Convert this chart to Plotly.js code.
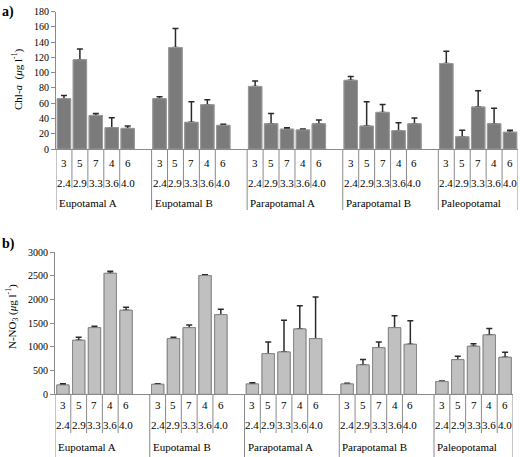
<!DOCTYPE html>
<html><head><meta charset="utf-8">
<script src="https://cdn.plot.ly/plotly-3.0.1.min.js"></script>
<style>body{margin:0;background:#fff}#chart{width:520px;height:457px}</style>
</head><body><div id="chart"></div>
<script>
const groups = ["Eupotamal A","Eupotamal B","Parapotamal A","Parapotamal B","Paleopotamal"];
const level1 = ["3","5","7","4","6"];
const level2 = ["2.4","2.9","3.3","3.6","4.0"];
const chlA    = [66,117,44,28,27, 66,133,35,58,31, 82,33,26,25,33, 90,30,48,24,33, 112,16,55,33,22];
const chlAErr = [4,14,2.5,13,3, 2.5,25,27,6.5,1.5, 7,13.5,2,1.3,5, 5,32,10.5,10.5,7.5, 16,8.5,21.5,20.5,2.5];
const no3     = [197,1141,1408,2556,1775, 211,1176,1408,2507,1683, 218,859,894,1380,1176, 218,620,986,1408,1056, 268,732,1014,1254,782];
const no3Err  = [25,63,29,42,63, 14,28,57,21,113, 28,247,669,493,880, 14,113,120,254,500, 14,71,56,134,106];

const W = 520, H = 457;
const SLOT = 6; // 5 categories + 1 blank slot per group
const xs = [];
groups.forEach((g, gi) => level1.forEach((c, ci) => xs.push(gi * SLOT + ci)));
const nSlots = (groups.length - 1) * SLOT + level1.length;
const xr = [-0.5, nSlots - 0.5];
const py = v => 1 - v / H;
const FONT = "Liberation Serif";
const AX = "#8a8a8a";

const panels = [
  {xa: "x", ya: "y", vals: chlA, err: chlAErr, fill: "#7b7b7b", edge: "#9a9a9a", width: 0.84,
   dx: [56 / W, 518 / W], dy: [py(149), py(11.7)], range: [0, 180], dtick: 20,
   axisY: 149, rows: [163, 183, 203], shortEnd: 188, fullEnd: 210,
   title: "Chl-<i>a</i>  (<i>μ</i>g l<sup>-1</sup>)", tx: 17, ty: 80, label: "a)", ly: 12},
  {xa: "x2", ya: "y2", vals: no3, err: no3Err, fill: "#c0c0c0", edge: "#888888", width: 0.78,
   dx: [55 / W, 513 / W], dy: [py(394.3), py(252.3)], range: [0, 3000], dtick: 500,
   axisY: 394.3, rows: [405, 425, 447], shortEnd: 433, fullEnd: 457,
   title: "N-NO<sub>3</sub> (<i>μ</i>g l<sup>-1</sup>)", tx: 12, ty: 317, label: "b)", ly: 244}
];

const data = [], annotations = [], shapes = [];
const layout = {
  width: W, height: H, margin: {l: 0, r: 0, t: 0, b: 0},
  paper_bgcolor: "#fff", plot_bgcolor: "#fff", showlegend: false, barmode: "overlay",
  font: {family: FONT, color: "#000"},
  annotations, shapes
};
const lab = (xa, x, y, text, anchor, xshift) => ({xref: xa, yref: "paper", x, y, text, showarrow: false,
  xanchor: anchor, yanchor: "middle", xshift: xshift || 0, font: {family: FONT, size: 11, color: "#000"}});

panels.forEach((p, pi) => {
  const sfx = pi === 0 ? "" : "2";
  data.push({type: "bar", x: xs, y: p.vals, xaxis: p.xa, yaxis: p.ya, width: p.width,
    marker: {color: p.fill, line: {color: p.edge, width: 1}},
    error_y: {type: "data", symmetric: false, array: p.err, arrayminus: p.err.map(() => 0),
      color: "#2a2a2a", thickness: 1.5, width: 3}, hoverinfo: "y"});
  data.push({type: "bar", x: xs, y: p.vals, xaxis: p.xa, yaxis: p.ya, width: p.width,
    marker: {color: p.fill, line: {color: p.edge, width: 1}}, hoverinfo: "skip"});
  layout["xaxis" + sfx] = {domain: p.dx, range: xr, anchor: p.ya, showticklabels: false, ticks: "",
    showgrid: false, zeroline: false, showline: true, linecolor: AX, linewidth: 1, fixedrange: true};
  layout["yaxis" + sfx] = {domain: p.dy, range: p.range, dtick: p.dtick, anchor: p.xa,
    showgrid: false, zeroline: false, showline: true, linecolor: AX, linewidth: 1,
    ticks: "outside", ticklen: 4, tickcolor: AX, tickfont: {family: FONT, size: 10, color: "#000"},
    fixedrange: true};

  groups.forEach((g, gi) => {
    level1.forEach((c, ci) => {
      const x = gi * SLOT + ci;
      annotations.push(lab(p.xa, x, py(p.rows[0]), c, "center"));
      annotations.push(lab(p.xa, x, py(p.rows[1]), level2[ci], "center"));
      if (ci < level1.length - 1) {
        shapes.push({type: "line", xref: p.xa, yref: "paper", x0: x + 0.5, x1: x + 0.5,
          y0: py(p.axisY), y1: py(p.shortEnd), line: {color: AX, width: 1}});
      }
    });
    annotations.push(lab(p.xa, gi * SLOT - 0.5, py(p.rows[2]), g, "left", 1));
    shapes.push({type: "line", xref: p.xa, yref: "paper", x0: gi * SLOT - 0.5, x1: gi * SLOT - 0.5,
      y0: py(p.axisY), y1: py(p.fullEnd), line: {color: AX, width: 1}});
  });
  shapes.push({type: "line", xref: p.xa, yref: "paper", x0: xr[1], x1: xr[1],
    y0: py(p.axisY), y1: py(p.fullEnd), line: {color: AX, width: 1}});

  annotations.push({xref: "paper", yref: "paper", x: p.tx / W, y: py(p.ty), text: p.title, textangle: -90,
    showarrow: false, xanchor: "center", yanchor: "middle", font: {family: FONT, size: 11, color: "#000"}});
  annotations.push({xref: "paper", yref: "paper", x: 0, y: py(p.ly), text: "<b>" + p.label + "</b>",
    showarrow: false, xanchor: "left", yanchor: "middle", font: {family: FONT, size: 14, color: "#000"}});
});

Plotly.newPlot("chart", data, layout, {displayModeBar: false, staticPlot: true});
</script>
</body></html>
